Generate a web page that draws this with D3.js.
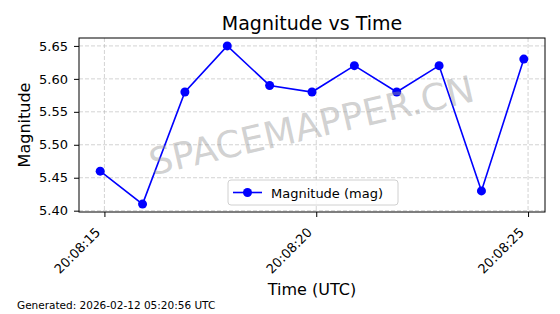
<!DOCTYPE html>
<html>
<head>
<meta charset="utf-8">
<script src="https://cdn.jsdelivr.net/npm/d3@7"></script>
<style>
  body { margin: 0; background: #fff; }
  text { font-family: "DejaVu Sans", sans-serif; }
</style>
</head>
<body>
<div id="chart"></div>
<script>
// data
const times = ["20:08:14.9", "20:08:15.9", "20:08:16.9", "20:08:17.9", "20:08:18.9", "20:08:19.9",
               "20:08:20.9", "20:08:21.9", "20:08:22.9", "20:08:23.9", "20:08:24.9"];
const magnitudes = [5.46, 5.41, 5.58, 5.65, 5.59, 5.58, 5.62, 5.58, 5.62, 5.43, 5.63];
const yTicks = [5.40, 5.45, 5.50, 5.55, 5.60, 5.65];
const xTickLabels = ["20:08:15", "20:08:20", "20:08:25"];

const W = 560, H = 314;
const margin = {top: 38, right: 15, bottom: 102, left: 79};
const width = W - margin.left - margin.right,
      height = H - margin.top - margin.bottom;

const parse = d3.timeParse("%H:%M:%S.%L");
const parseTick = d3.timeParse("%H:%M:%S");
const data = times.map((t, i) => ({t: parse(t + "00"), v: magnitudes[i]}));

const svg = d3.select("#chart").append("svg")
  .attr("width", W).attr("height", H);

// matplotlib-style 5% margins
const tExt = d3.extent(data, d => d.t);
const tPad = (tExt[1] - tExt[0]) * 0.05;
const x = d3.scaleTime()
  .domain([new Date(+tExt[0] - tPad), new Date(+tExt[1] + tPad)])
  .range([0, width]);
const vExt = d3.extent(magnitudes);
const vPad = (vExt[1] - vExt[0]) * 0.05;
const y = d3.scaleLinear()
  .domain([vExt[0] - vPad, vExt[1] + vPad])
  .range([height, 0]);

const g = svg.append("g").attr("transform", `translate(${margin.left},${margin.top})`);

const xTickDates = xTickLabels.map(parseTick);

// grid
g.append("g").selectAll("line").data(yTicks).enter().append("line")
  .attr("x1", 0).attr("x2", width)
  .attr("y1", d => y(d)).attr("y2", d => y(d))
  .attr("stroke", "#b0b0b0").attr("stroke-opacity", 0.7)
  .attr("stroke-dasharray", "4,2").attr("stroke-width", 0.8);
g.append("g").selectAll("line").data(xTickDates).enter().append("line")
  .attr("x1", d => x(d)).attr("x2", d => x(d))
  .attr("y1", 0).attr("y2", height)
  .attr("stroke", "#b0b0b0").attr("stroke-opacity", 0.7)
  .attr("stroke-dasharray", "4,2").attr("stroke-width", 0.8);

// watermark
svg.append("text")
  .attr("transform", "translate(312,128) rotate(-13)")
  .attr("text-anchor", "middle")
  .attr("dominant-baseline", "middle")
  .attr("font-size", 37)
  .attr("fill", "#999")
  .attr("fill-opacity", 0.45)
  .text("SPACEMAPPER.CN");

// line + markers
g.append("path").datum(data)
  .attr("fill", "none").attr("stroke", "#0000ff").attr("stroke-width", 1.6)
  .attr("d", d3.line().x(d => x(d.t)).y(d => y(d.v)));
g.selectAll("circle.pt").data(data).enter().append("circle")
  .attr("class", "pt")
  .attr("cx", d => x(d.t)).attr("cy", d => y(d.v)).attr("r", 4.5)
  .attr("fill", "#0000ff");

// axes
const yAxis = g.append("g")
  .call(d3.axisLeft(y).tickValues(yTicks).tickFormat(d3.format(".2f")).tickSize(5).tickPadding(6));
yAxis.select(".domain").remove();
yAxis.selectAll("text").attr("font-size", 13).attr("fill", "#000");
yAxis.selectAll("line").attr("stroke", "#000");

const xAxis = g.append("g").attr("transform", `translate(0,${height})`)
  .call(d3.axisBottom(x).tickValues(xTickDates).tickFormat(d3.timeFormat("%H:%M:%S")).tickSize(5));
xAxis.select(".domain").remove();
xAxis.selectAll("line").attr("stroke", "#000");
// rotated labels, right end under the tick like matplotlib ha="right"
xAxis.selectAll("text")
  .attr("font-size", 13).attr("fill", "#000")
  .attr("text-anchor", "end")
  .attr("x", 0).attr("y", 0)
  .attr("dy", "0.35em")
  .attr("transform", "translate(-7,18) rotate(-45)");

g.append("rect").attr("width", width).attr("height", height)
  .attr("fill", "none").attr("stroke", "#000").attr("stroke-width", 1);

// legend
const leg = svg.append("g").attr("transform", "translate(228,180)");
leg.append("rect").attr("width", 170).attr("height", 25).attr("rx", 3)
  .attr("fill", "#fff").attr("fill-opacity", 0.8).attr("stroke", "#d0d0d0");
leg.append("line").attr("x1", 5).attr("x2", 34).attr("y1", 12.5).attr("y2", 12.5)
  .attr("stroke", "#0000ff").attr("stroke-width", 1.6);
leg.append("circle").attr("cx", 19.5).attr("cy", 12.5).attr("r", 4.5).attr("fill", "#0000ff");
leg.append("text").attr("x", 43).attr("y", 17.5).attr("font-size", 13).text("Magnitude (mag)");

// titles
svg.append("text").attr("x", margin.left + width / 2).attr("y", 30)
  .attr("text-anchor", "middle").attr("font-size", 19).text("Magnitude vs Time");
svg.append("text").attr("x", margin.left + width / 2).attr("y", 295)
  .attr("text-anchor", "middle").attr("font-size", 16).text("Time (UTC)");
svg.append("text")
  .attr("transform", `translate(30,${margin.top + height / 2}) rotate(-90)`)
  .attr("text-anchor", "middle").attr("font-size", 16).text("Magnitude");
svg.append("text").attr("x", 17).attr("y", 309).attr("font-size", 10.5)
  .text("Generated: 2026-02-12 05:20:56 UTC");
</script>
</body>
</html>
